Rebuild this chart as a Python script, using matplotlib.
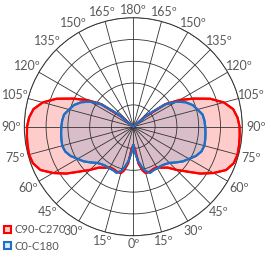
import numpy as np
import matplotlib
matplotlib.use("Agg")
import matplotlib.pyplot as plt

plt.rcParams["font.family"] = ["Lato", "DejaVu Sans"]

# angle from nadir (deg) and relative intensity (symmetric curves)
angles = [0, 4, 8, 12, 15, 20, 25, 30, 35, 40, 45, 50, 55, 60, 65, 70, 75,
          80, 85, 90, 95, 100, 105, 110, 115, 120, 125, 130, 133, 180]
c90_c270 = [0.17, 0.20, 0.34, 0.41, 0.44, 0.44, 0.43, 0.43, 0.46, 0.49, 0.56, 0.64,
            0.75, 0.85, 0.94, 0.98, 0.99, 0.985, 0.98, 0.975, 0.96, 0.93, 0.86,
            0.75, 0.61, 0.49, 0.36, 0.14, 0.0, 0.0]
c0_c180 = [0.17, 0.24, 0.32, 0.38, 0.42, 0.45, 0.44, 0.44, 0.44, 0.45, 0.47, 0.51,
           0.555, 0.59, 0.635, 0.665, 0.675, 0.67, 0.665, 0.66, 0.655, 0.645, 0.61,
           0.58, 0.53, 0.46, 0.36, 0.17, 0.0, 0.0]
series = ["C90-C270", "C0-C180"]
tick_angles = list(range(0, 360, 15))
tick_labels = [f"{min(a, 360 - a)}º" for a in tick_angles]


def full_curve(ang, vals):
    ang = np.array(ang, dtype=float)
    vals = np.array(vals, dtype=float)
    th = np.concatenate([ang, 360 - ang[::-1]])
    r = np.concatenate([vals, vals[::-1]])
    return np.deg2rad(th), r


fig = plt.figure(figsize=(2.71, 2.60), dpi=100)
ax = fig.add_axes([24.3 / 271, 24.3 / 260, 218 / 271, 218 / 260], projection="polar")
ax.set_theta_zero_location("S")
ax.set_ylim(0, 1)
ax.set_axisbelow(False)

styles = [((1, 0, 0, 0.2), "#ff0000"), ((0, 0.44, 0.75, 0.15), "#1f6fc5")]
for name, vals, (fc, ec) in zip(series, [c90_c270, c0_c180], styles):
    th, r = full_curve(angles, vals)
    ax.fill(th, r, facecolor=fc, edgecolor=ec, lw=1.5, label=name, zorder=1)
    ax.plot(th, r, color=ec, lw=1.6, zorder=3)

ax.set_rticks([0.2, 0.4, 0.6, 0.8, 1.0])
ax.set_yticklabels([])
ax.set_thetagrids(tick_angles, [""] * len(tick_angles))
ax.grid(True, color="#333333", lw=0.6)
ax.spines["polar"].set_color("#333333")
ax.spines["polar"].set_linewidth(0.7)

# angle labels around the circle
for a, lab in zip(tick_angles, tick_labels):
    rr = 1.075 + 0.05 * abs(np.sin(np.deg2rad(a)))
    ax.text(np.deg2rad(a), rr, lab, ha="center", va="center", fontsize=9,
            color="#595959", clip_on=False)

leg = fig.legend(loc="lower left", bbox_to_anchor=(0.0, 0.015), frameon=False, fontsize=8,
                 handlelength=0.6, handleheight=0.6, handletextpad=0.3, labelspacing=0.5,
                 borderaxespad=0.1, borderpad=0.3)
for t in leg.get_texts():
    t.set_color("#595959")

fig.savefig("out.png", dpi=100)
